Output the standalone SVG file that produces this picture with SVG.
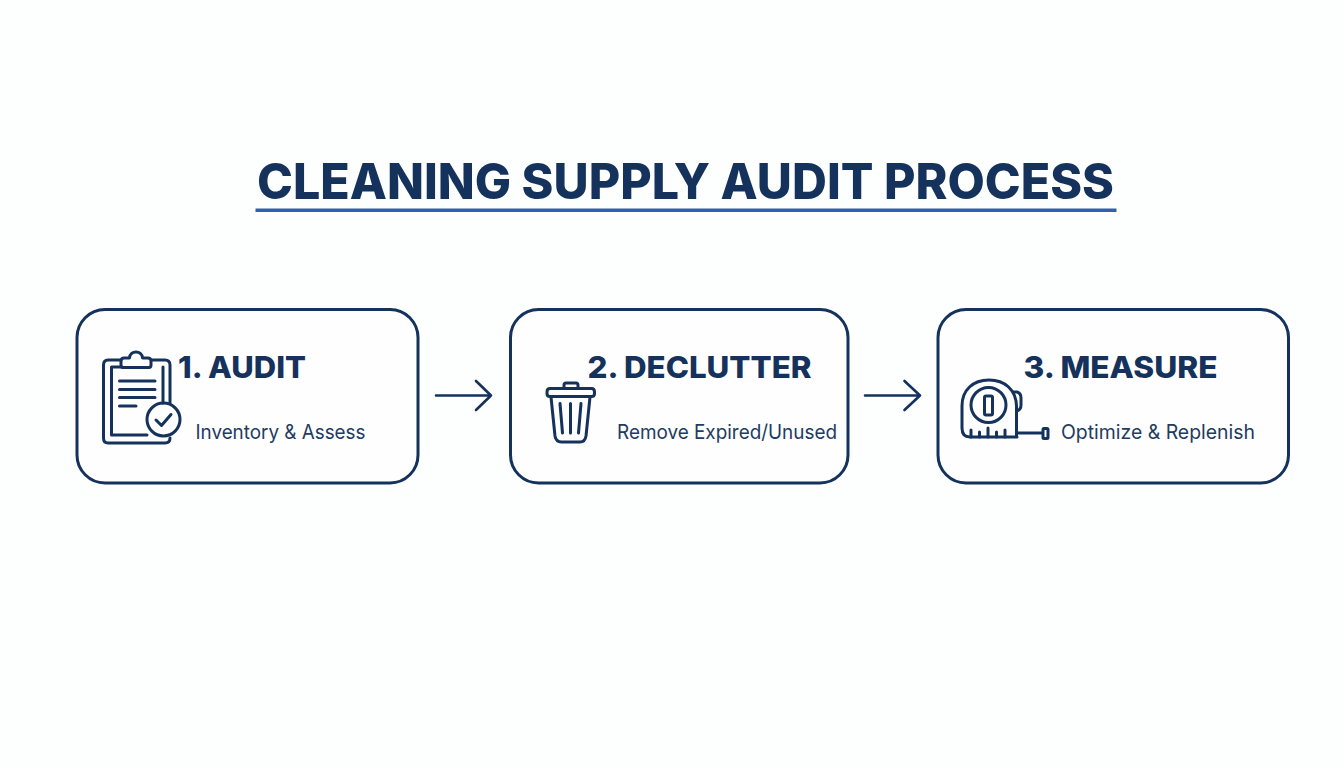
<svg xmlns="http://www.w3.org/2000/svg" width="1344" height="768" viewBox="0 0 1344 768">
<style>
.card{fill:#fefefe;stroke:#15325c;stroke-width:3}
.ic{fill:none;stroke:#15325c;stroke-width:3;stroke-linecap:round;stroke-linejoin:round}
.conn{fill:none;stroke:#15325c;stroke-width:2.6;stroke-linecap:round;stroke-linejoin:round}
.h{font-family:"Inter","Liberation Sans",sans-serif;font-weight:800;font-size:30px;fill:#15325c}
.s{font-family:"Inter","Liberation Sans",sans-serif;font-weight:400;font-size:20px;fill:#233b5f}
</style>
<rect width="1344" height="768" fill="#fdfefe"/>
<g id="title">
<text x="257" y="199" textLength="857" lengthAdjust="spacingAndGlyphs" style="font-family:'Inter','Liberation Sans',sans-serif;font-weight:800;font-size:49px;fill:#15325c">CLEANING SUPPLY AUDIT PROCESS</text>
<rect x="255.500" y="208.500" width="861" height="3.500" fill="#2f62a8"/>
</g>
<g id="connectors">
<path class="conn" d="M436 395.500H491M476 381L491 395.500L476 410"/>
<path class="conn" d="M865 395.500H920M904.500 381L920 395.500L904.500 410"/>
</g>
<g id="node-audit">
<rect class="card" x="77" y="309.500" width="341" height="173.500" rx="28"/>
<path class="ic" d="M121 360H108Q103.500 360 103.500 365V438Q103.500 443 108 443H165Q170 443 170 438M170 403V365Q170 360 165 360H152"/>
<path class="ic" d="M122 367H111.500V435H147M163 367V403"/>
<path class="ic" d="M123 367.500Q121 367.500 121 365V361Q121 358 124 358H129.500C130 350 142 350 142.500 358H148Q151 358 151 361V365Q151 367.500 149 367.500Z"/>
<path class="ic" d="M119.500 381H155M119.500 389.500H155M119.500 397.500H155M119.500 406H136"/>
<circle class="ic" cx="163.500" cy="419.500" r="16.500"/>
<path class="ic" d="M156 420L161.500 425.500L171 414.500"/>
<text class="h" x="178" y="378" textLength="128" lengthAdjust="spacingAndGlyphs">1. AUDIT</text>
<text class="s" x="195.500" y="439" textLength="170" lengthAdjust="spacingAndGlyphs">Inventory &amp; Assess</text>
</g>
<g id="node-declutter">
<rect class="card" x="510.500" y="309.500" width="337.500" height="173.500" rx="28"/>
<path class="ic" d="M550 388.500H591.500Q594.500 388.500 594.500 392V393.500Q594.500 396.500 591.500 396.500H550Q547 396.500 547 393.500V392Q547 388.500 550 388.500Z"/>
<path class="ic" d="M564 388V385Q564 383 566 383H576Q578 383 578 385V388"/>
<path class="ic" d="M551 397L555 436Q556 442 561.500 442H580Q585 442 586 436L590 397"/>
<path class="ic" d="M560 403.500L562.500 433M570.500 403.500V433M581 403.500L578.500 433"/>
<text class="h" x="587.500" y="378" textLength="224" lengthAdjust="spacingAndGlyphs">2. DECLUTTER</text>
<text class="s" x="617" y="439" textLength="220" lengthAdjust="spacingAndGlyphs">Remove Expired/Unused</text>
</g>
<g id="node-measure">
<rect class="card" x="938" y="309.500" width="350.500" height="173.500" rx="28"/>
<path class="ic" d="M1017 437H970Q962 437 962 428V406C962 390 973 380 989 380C1005 380 1016 390 1016.500 406V437"/>
<path class="ic" d="M1013 392H1017Q1021 393 1021 398V405Q1021 410 1016.500 411"/>
<circle class="ic" cx="988.500" cy="405" r="17.500"/>
<rect class="ic" x="984.500" y="396" width="8" height="19" rx="1.500"/>
<path class="ic" d="M971 437V430M979.500 437V432M988 437V428M996.500 437V432M1005 437V430"/>
<path class="ic" d="M1017 433H1042"/>
<rect class="ic" x="1043" y="428.500" width="5" height="10" rx="1"/>
<text class="h" x="1023.500" y="378" textLength="194" lengthAdjust="spacingAndGlyphs">3. MEASURE</text>
<text class="s" x="1061" y="439" textLength="194" lengthAdjust="spacingAndGlyphs">Optimize &amp; Replenish</text>
</g>
</svg>
